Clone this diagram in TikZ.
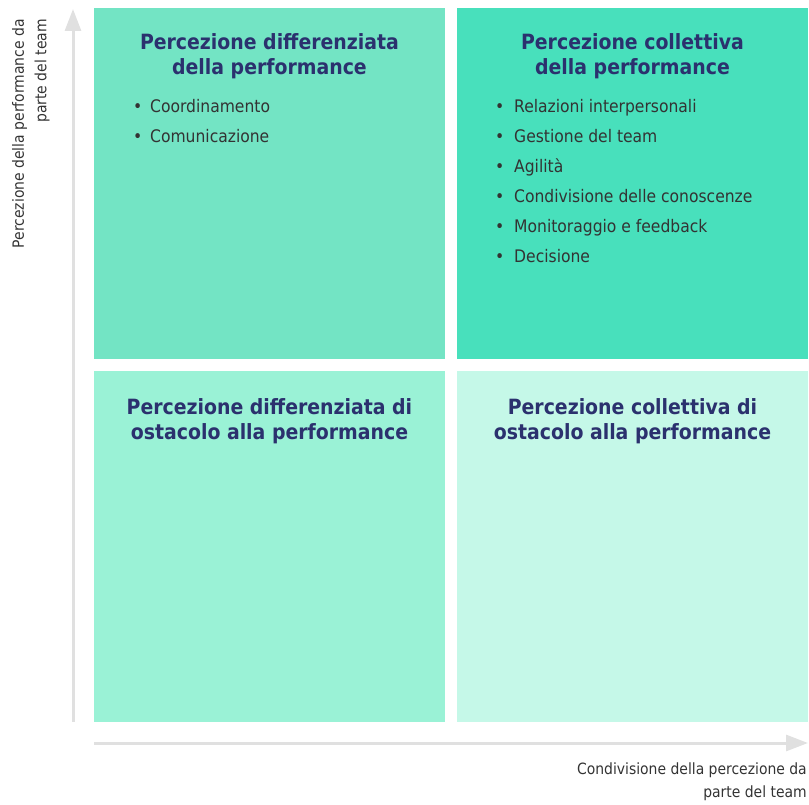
\documentclass[tikz,border=0pt]{standalone}
\usepackage{fontspec}
\setmainfont{DejaVu Sans Condensed}
\usetikzlibrary{arrows.meta}
\definecolor{tlfill}{RGB}{115,228,196}
\definecolor{trfill}{RGB}{72,224,188}
\definecolor{blfill}{RGB}{154,242,214}
\definecolor{brfill}{RGB}{197,248,232}
\definecolor{titlecol}{RGB}{43,49,110}
\definecolor{itemcol}{RGB}{51,51,51}
\definecolor{axiscol}{RGB}{224,224,224}
\tikzset{
  quad/.style={draw=none, minimum width=351pt, minimum height=351pt, inner sep=0pt, anchor=north west},
  qtitle/.style={anchor=base, align=center, inner sep=0pt, text=titlecol, font=\fontsize{21}{25}\selectfont\bfseries},
  qitem/.style={anchor=base west, inner sep=0pt, text=itemcol, font=\fontsize{17.3}{20}\selectfont},
  axis/.style={line width=3pt, draw=axiscol, -{Triangle[width=16pt,length=22pt]}},
  axlabel/.style={inner sep=0pt, align=right, text=itemcol, font=\fontsize{15.5}{22.5}\selectfont}
}
\begin{document}
\begin{tikzpicture}[x=1pt,y=-1pt]
\useasboundingbox (0,0) rectangle (809,805);
\node [quad, fill=tlfill] (q-tl) at (94,8) {};
\node [quad, fill=trfill] (q-tr) at (457,8) {};
\node [quad, fill=blfill] (q-bl) at (94,371) {};
\node [quad, fill=brfill] (q-br) at (457,371) {};
\node [qtitle] (t-tl) at (269.5,75) {Percezione differenziata\\della performance};
\node [qtitle] (t-tr) at (632.5,75) {Percezione collettiva\\della performance};
\node [qtitle] (t-bl) at (269.5,439) {Percezione differenziata di\\ostacolo alla performance};
\node [qtitle] (t-br) at (632.5,439) {Percezione collettiva di\\ostacolo alla performance};
\node [qitem] (tl-1) at (133,113) {\makebox[17pt][l]{\textbullet}Coordinamento};
\node [qitem] (tl-2) at (133,143) {\makebox[17pt][l]{\textbullet}Comunicazione};
\node [qitem] (tr-1) at (495,113) {\makebox[19pt][l]{\textbullet}Relazioni interpersonali};
\node [qitem] (tr-2) at (495,143) {\makebox[19pt][l]{\textbullet}Gestione del team};
\node [qitem] (tr-3) at (495,173) {\makebox[19pt][l]{\textbullet}Agilità};
\node [qitem] (tr-4) at (495,203) {\makebox[19pt][l]{\textbullet}Condivisione delle conoscenze};
\node [qitem] (tr-5) at (495,233) {\makebox[19pt][l]{\textbullet}Monitoraggio e feedback};
\node [qitem] (tr-6) at (495,263) {\makebox[19pt][l]{\textbullet}Decisione};
\coordinate (y-start) at (73,722);
\coordinate (y-end) at (73,9);
\coordinate (x-start) at (94,743);
\coordinate (x-end) at (808,743);
\draw [axis] (y-start) -- (y-end);
\draw [axis] (x-start) -- (x-end);
\node [axlabel, rotate=90, anchor=north east] (lab-y) at (12,19) {Percezione della performance da\\parte del team};
\node [axlabel, anchor=north east] (lab-x) at (807,763) {Condivisione della percezione da\\parte del team};
\end{tikzpicture}
\end{document}
